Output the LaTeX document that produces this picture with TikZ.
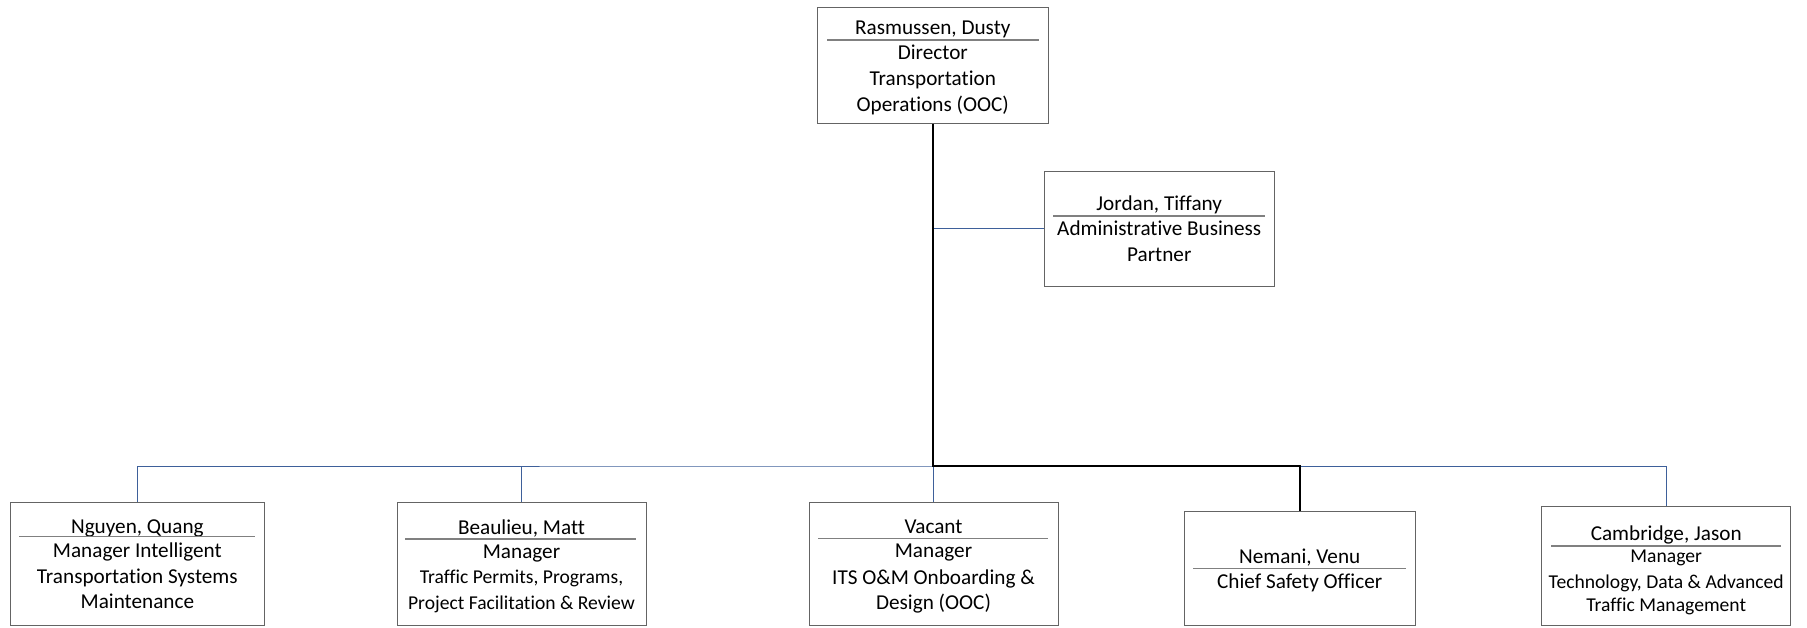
\documentclass[tikz,border=0pt]{standalone}
\usepackage{fontspec}
\setmainfont{Carlito}[Ligatures={NoCommon,NoContextual}]
\definecolor{linkblue}{RGB}{62,96,154}
\definecolor{boxgray}{RGB}{100,100,100}
\definecolor{sepgray}{RGB}{128,128,128}
\tikzset{
  box/.style={draw=boxgray, line width=1pt, fill=white, rectangle, inner sep=0pt},
  txt/.style={anchor=base, inner sep=0pt, font=\fontsize{21.2}{25.6}\selectfont},
  stxt/.style={anchor=base, inner sep=0pt, font=\fontsize{19.6}{24}\selectfont},
  sepline/.style={draw=sepgray, line width=1.5pt},
  bluelink/.style={draw=linkblue, line width=1pt},
  blacklink/.style={draw=black, line width=1.8pt},
}
\begin{document}
\begin{tikzpicture}[x=1pt,y=-1pt]
\useasboundingbox (0,0) rectangle (1807,627);
% boxes
\node[box, minimum width=231pt, minimum height=115.5pt] (R) at (932.8,65.25) {};
\node[box, minimum width=230.5pt, minimum height=114.7pt] (J) at (1159.25,228.65) {};
\node[box, minimum width=253.3pt, minimum height=123.2pt] (N) at (137.35,563.9) {};
\node[box, minimum width=249pt, minimum height=123.2pt] (B) at (521.5,563.9) {};
\node[box, minimum width=249pt, minimum height=123.2pt] (V) at (933.5,563.9) {};
\node[box, minimum width=230.7pt, minimum height=114.2pt] (Ne) at (1299.65,568.4) {};
\node[box, minimum width=249pt, minimum height=118.8pt] (C) at (1666.2,566.1) {};
% connectors
\coordinate (bus) at (933,466);
\draw[bluelink] (N.north) |- (bus) -| (C.north);
\draw[bluelink] (B.north) -- (B.north |- bus);
\draw[bluelink] (V.north) -- (V.north |- bus);
\draw[bluelink] (R.south |- J.west) -- (J.west);
\draw[blacklink] (R.south) -- (R.south |- bus) -| (Ne.north);
% Rasmussen
\node[txt] (r1) at (932.8,34.3) {Rasmussen, Dusty};
\draw[sepline] (827,40) -- (1039,40);
\node[txt] (r2) at (932.8,59.3) {Director};
\node[txt] (r3) at (932.8,85.5) {Transportation};
\node[txt] (r4) at (932.8,111) {Operations (OOC)};
% Jordan
\node[txt] (j1) at (1159.25,210) {Jordan, Tiffany};
\draw[sepline] (1053,216) -- (1265,216);
\node[txt] (j2) at (1159.25,235) {Administrative Business};
\node[txt] (j3) at (1159.25,261) {Partner};
% Nguyen
\node[txt] (n1) at (137.35,533) {Nguyen, Quang};
\draw[sepline] (19,536.5) -- (255,536.5);
\node[txt] (n2) at (137.35,557.7) {Manager Intelligent};
\node[txt] (n3) at (137.35,583.3) {Transportation Systems};
\node[txt] (n4) at (137.35,608.3) {Maintenance};
% Beaulieu
\node[txt] (b1) at (521.5,534) {Beaulieu, Matt};
\draw[sepline] (405,539) -- (636,539);
\node[txt] (b2) at (521.5,558) {Manager};
\node[stxt] (b3) at (521.5,583.3) {Traffic Permits, Programs,};
\node[stxt] (b4) at (521.5,609) {Project Facilitation \& Review};
% Vacant
\node[txt] (v1) at (933.5,533) {Vacant};
\draw[sepline] (818,538.3) -- (1048,538.3);
\node[txt] (v2) at (933.5,557.3) {Manager};
\node[txt] (v3) at (933.5,584) {ITS O\&M Onboarding \&};
\node[txt] (v4) at (933.5,609) {Design (OOC)};
% Nemani
\node[txt] (ne1) at (1299.65,563.3) {Nemani, Venu};
\draw[sepline] (1193,568.3) -- (1406,568.3);
\node[txt] (ne2) at (1299.65,588.3) {Chief Safety Officer};
% Cambridge
\node[txt] (c1) at (1666.2,540) {Cambridge, Jason};
\draw[sepline] (1551,546) -- (1781,546);
\node[stxt] (c2) at (1666.2,562.3) {Manager};
\node[stxt] (c3) at (1666.2,588) {Technology, Data \& Advanced};
\node[stxt] (c4) at (1666.2,611) {Traffic Management};
\end{tikzpicture}
\end{document}
